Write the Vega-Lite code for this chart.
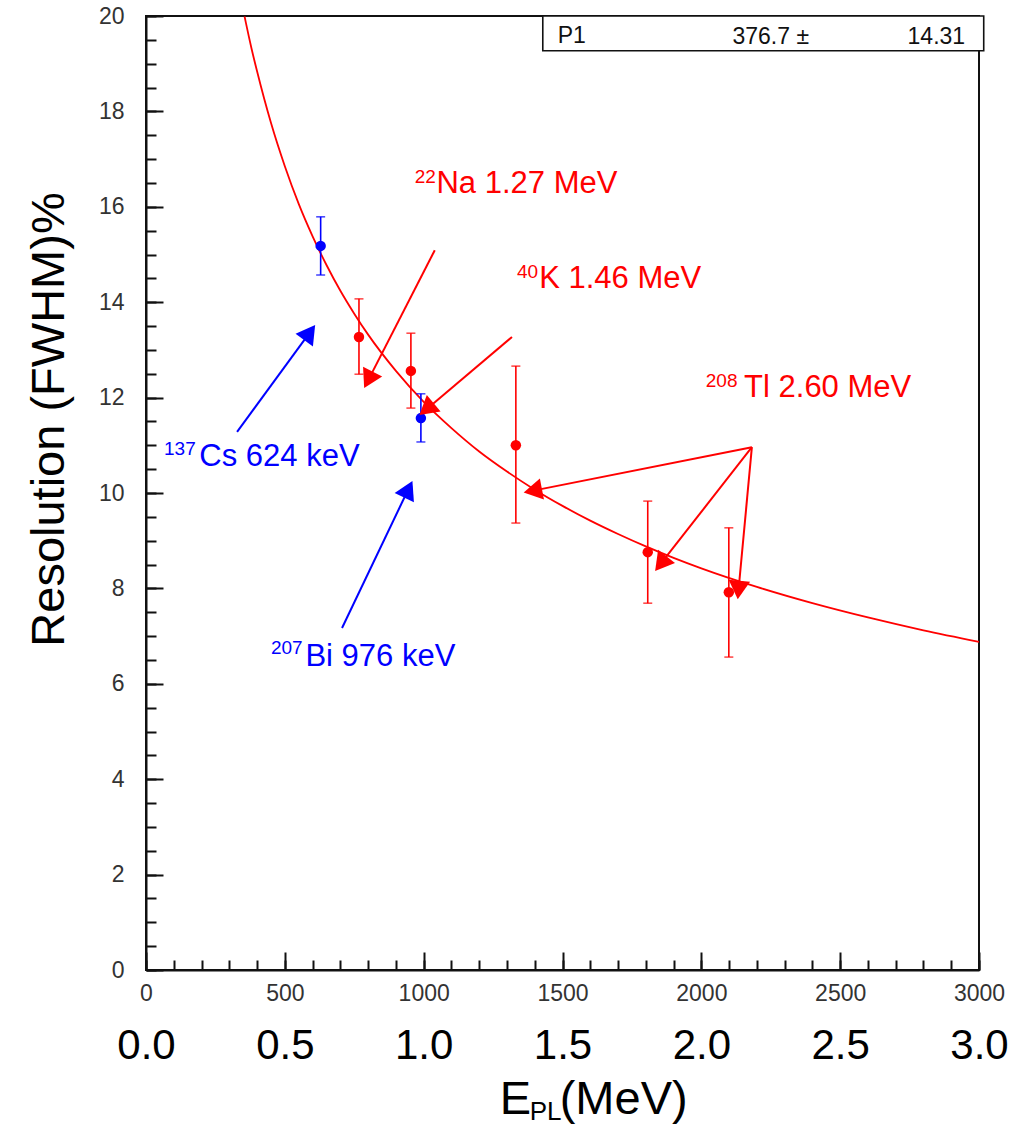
{
  "$schema": "https://vega.github.io/schema/vega-lite/v6.json",
  "width": 833,
  "height": 954,
  "autosize": {"type": "none"},
  "padding": {"left": 146, "top": 16, "right": 49, "bottom": 158},
  "background": "white",
  "config": {
    "view": {"stroke": "#111", "strokeWidth": 2},
    "font": "Liberation Sans",
    "axis": {"grid": false, "domainColor": "#111", "domainWidth": 2, "tickColor": "#111", "tickWidth": 2, "labelFont": "Liberation Sans", "titleFont": "Liberation Sans", "labelFlush": false, "labelOverlap": false}
  },
  "datasets": {
    "pts": [
      {"E": 629, "R": 15.18, "lo": 14.57, "hi": 15.79, "group": "Cs/Bi"},
      {"E": 767, "R": 13.27, "lo": 12.49, "hi": 14.07, "group": "Na/K/Tl"},
      {"E": 954, "R": 12.56, "lo": 11.78, "hi": 13.35, "group": "Na/K/Tl"},
      {"E": 990, "R": 11.57, "lo": 11.07, "hi": 12.08, "group": "Cs/Bi"},
      {"E": 1332, "R": 11.0, "lo": 9.37, "hi": 12.66, "group": "Na/K/Tl"},
      {"E": 1807, "R": 8.76, "lo": 7.69, "hi": 9.83, "group": "Na/K/Tl"},
      {"E": 2099, "R": 7.92, "lo": 6.56, "hi": 9.27, "group": "Na/K/Tl"}
    ],
    "fit": [
      {"E": 355, "R": 19.99}, {"E": 360, "R": 19.85}, {"E": 380, "R": 19.32}, {"E": 400, "R": 18.84},
      {"E": 450, "R": 17.76}, {"E": 500, "R": 16.85}, {"E": 550, "R": 16.06}, {"E": 600, "R": 15.38},
      {"E": 650, "R": 14.78}, {"E": 700, "R": 14.24}, {"E": 750, "R": 13.76}, {"E": 800, "R": 13.32},
      {"E": 900, "R": 12.56}, {"E": 1000, "R": 11.91}, {"E": 1100, "R": 11.36}, {"E": 1200, "R": 10.87},
      {"E": 1300, "R": 10.45}, {"E": 1400, "R": 10.07}, {"E": 1500, "R": 9.73}, {"E": 1600, "R": 9.42},
      {"E": 1700, "R": 9.14}, {"E": 1800, "R": 8.88}, {"E": 1900, "R": 8.64}, {"E": 2000, "R": 8.42},
      {"E": 2200, "R": 8.03}, {"E": 2400, "R": 7.69}, {"E": 2600, "R": 7.39}, {"E": 2800, "R": 7.12},
      {"E": 3000, "R": 6.88}
    ],
    "arrows": [
      {"x0": 1040, "y0": 15.09, "x1": 806, "y1": 12.43, "dir": 207, "group": "Na/K/Tl"},
      {"x0": 1318, "y0": 13.27, "x1": 1019, "y1": 11.80, "dir": 230, "group": "Na/K/Tl"},
      {"x0": 2182, "y0": 10.96, "x1": 1404, "y1": 10.06, "dir": 259, "group": "Na/K/Tl"},
      {"x0": 2182, "y0": 10.96, "x1": 1861, "y1": 8.57, "dir": 218, "group": "Na/K/Tl"},
      {"x0": 2182, "y0": 10.96, "x1": 2135, "y1": 8.03, "dir": 185, "group": "Na/K/Tl"},
      {"x0": 328, "y0": 11.28, "x1": 583, "y1": 13.31, "dir": 36, "group": "Cs/Bi"},
      {"x0": 706, "y0": 7.17, "x1": 940, "y1": 10.02, "dir": 26, "group": "Cs/Bi"}
    ],
    "notes": [
      {"x": 968, "y": 16.50, "text": "22", "kind": "sup", "group": "Na/K/Tl"},
      {"x": 1046, "y": 16.29, "text": "Na 1.27 MeV", "kind": "main", "group": "Na/K/Tl"},
      {"x": 1336, "y": 14.51, "text": "40", "kind": "sup", "group": "Na/K/Tl"},
      {"x": 1416, "y": 14.30, "text": "K 1.46 MeV", "kind": "main", "group": "Na/K/Tl"},
      {"x": 2016, "y": 12.22, "text": "208", "kind": "sup", "group": "Na/K/Tl"},
      {"x": 2154, "y": 12.01, "text": "Tl 2.60 MeV", "kind": "main", "group": "Na/K/Tl"},
      {"x": 65, "y": 10.80, "text": "137", "kind": "sup", "group": "Cs/Bi"},
      {"x": 192, "y": 10.57, "text": "Cs 624 keV", "kind": "main", "group": "Cs/Bi"},
      {"x": 450, "y": 6.62, "text": "207", "kind": "sup", "group": "Cs/Bi"},
      {"x": 574, "y": 6.37, "text": "Bi 976 keV", "kind": "main", "group": "Cs/Bi"}
    ],
    "xtitle": [
      {"x": 1274, "y": -3.02, "text": "E", "kind": "main"},
      {"x": 1382, "y": -3.15, "text": "PL", "kind": "sub"},
      {"x": 1490, "y": -3.02, "text": "(MeV)", "kind": "main"}
    ],
    "box": [
      {"x1": 1429, "x2": 3017, "y1": 19.27, "y2": 20}
    ],
    "boxtext": [
      {"x": 1483, "y": 19.43, "text": "P1", "side": "left"},
      {"x": 2112, "y": 19.41, "text": "376.7 ±", "side": "left"},
      {"x": 2950, "y": 19.41, "text": "14.31", "side": "right"}
    ]
  },
  "layer": [
    {
      "data": {"name": "fit"},
      "mark": {"type": "line", "color": "#ff0000", "strokeWidth": 1.8, "interpolate": "monotone"},
      "encoding": {
        "x": {"field": "E", "type": "quantitative", "scale": {"domain": [0, 3000], "nice": false, "zero": false},
          "axis": {"orient": "bottom", "values": [0,100,200,300,400,500,600,700,800,900,1000,1100,1200,1300,1400,1500,1600,1700,1800,1900,2000,2100,2200,2300,2400,2500,2600,2700,2800,2900,3000], "tickSize": -10, "labels": false, "domain": true, "title": null}},
        "y": {"field": "R", "type": "quantitative", "scale": {"domain": [0, 20], "nice": false, "zero": false},
          "axis": {"orient": "left", "values": [0,0.5,1,1.5,2,2.5,3,3.5,4,4.5,5,5.5,6,6.5,7,7.5,8,8.5,9,9.5,10,10.5,11,11.5,12,12.5,13,13.5,14,14.5,15,15.5,16,16.5,17,17.5,18,18.5,19,19.5,20], "tickSize": -10, "labels": false, "domain": true, "title": null}}
      }
    },
    {
      "data": {"name": "pts"},
      "mark": {"type": "rule", "strokeWidth": 1.6},
      "encoding": {
        "x": {"field": "E", "type": "quantitative", "scale": {"domain": [0, 3000], "nice": false, "zero": false},
          "axis": {"orient": "bottom", "values": [0,500,1000,1500,2000,2500,3000], "tickSize": -18, "labels": false, "domain": false, "title": null}},
        "y": {"field": "lo", "type": "quantitative", "scale": {"domain": [0, 20], "nice": false, "zero": false},
          "axis": {"orient": "left", "values": [0,2,4,6,8,10,12,14,16,18,20], "tickSize": -17, "labels": false, "domain": false, "title": null}},
        "y2": {"field": "hi"},
        "color": {"field": "group", "type": "nominal", "scale": {"domain": ["Cs/Bi", "Na/K/Tl"], "range": ["#0000ff", "#ff0000"]}, "legend": null}
      }
    },
    {
      "data": {"name": "pts"},
      "mark": {"type": "tick", "orient": "horizontal", "size": 9, "thickness": 1.6},
      "encoding": {
        "x": {"field": "E", "type": "quantitative", "scale": {"domain": [0, 3000], "nice": false, "zero": false},
          "axis": {"orient": "bottom", "values": [0,500,1000,1500,2000,2500,3000], "format": "d", "ticks": false, "tickSize": 0, "domain": false, "labelFontSize": 23, "labelColor": "#333", "labelBaseline": "alphabetic", "labelPadding": 30, "title": null}},
        "y": {"field": "hi", "type": "quantitative", "scale": {"domain": [0, 20], "nice": false, "zero": false},
          "axis": {"orient": "left", "values": [0,2,4,6,8,10,12,14,16,18,20], "ticks": false, "tickSize": 0, "domain": false, "labelFontSize": 23, "labelColor": "#333", "labelBaseline": "middle", "labelPadding": 22,
            "title": "Resolution (FWHM)%", "titleFontSize": 47, "titleFontWeight": "normal", "titleColor": "#000", "titleAngle": 270, "titleAlign": "center", "titleBaseline": "alphabetic", "titleX": -83, "titleY": 403}},
        "color": {"field": "group", "type": "nominal", "scale": {"domain": ["Cs/Bi", "Na/K/Tl"], "range": ["#0000ff", "#ff0000"]}, "legend": null}
      }
    },
    {
      "data": {"name": "pts"},
      "mark": {"type": "tick", "orient": "horizontal", "size": 9, "thickness": 1.6},
      "encoding": {
        "x": {"field": "E", "type": "quantitative", "scale": {"domain": [0, 3000], "nice": false, "zero": false},
          "axis": {"orient": "bottom", "values": [0,500,1000,1500,2000,2500,3000], "ticks": false, "tickSize": 0, "domain": false, "labelFontSize": 42, "labelFontWeight": "normal", "labelColor": "#000", "labelBaseline": "alphabetic", "labelPadding": 88, "labelExpr": "format(datum.value / 1000, '.1f')", "title": null}},
        "y": {"field": "lo", "type": "quantitative", "scale": {"domain": [0, 20], "nice": false, "zero": false}, "axis": null},
        "color": {"field": "group", "type": "nominal", "scale": {"domain": ["Cs/Bi", "Na/K/Tl"], "range": ["#0000ff", "#ff0000"]}, "legend": null}
      }
    },
    {
      "data": {"name": "pts"},
      "mark": {"type": "point", "shape": "circle", "filled": true, "opacity": 1, "size": 110},
      "encoding": {
        "x": {"field": "E", "type": "quantitative", "scale": {"domain": [0, 3000], "nice": false, "zero": false}, "axis": null},
        "y": {"field": "R", "type": "quantitative", "scale": {"domain": [0, 20], "nice": false, "zero": false}, "axis": null},
        "color": {"field": "group", "type": "nominal", "scale": {"domain": ["Cs/Bi", "Na/K/Tl"], "range": ["#0000ff", "#ff0000"]}, "legend": null}
      }
    },
    {
      "data": {"name": "arrows"},
      "mark": {"type": "rule", "strokeWidth": 2},
      "encoding": {
        "x": {"field": "x0", "type": "quantitative", "scale": {"domain": [0, 3000], "nice": false, "zero": false}, "axis": null},
        "y": {"field": "y0", "type": "quantitative", "scale": {"domain": [0, 20], "nice": false, "zero": false}, "axis": null},
        "x2": {"field": "x1"},
        "y2": {"field": "y1"},
        "color": {"field": "group", "type": "nominal", "scale": {"domain": ["Cs/Bi", "Na/K/Tl"], "range": ["#0000ff", "#ff0000"]}, "legend": null}
      }
    },
    {
      "data": {"name": "arrows"},
      "mark": {"type": "point", "shape": "triangle", "filled": true, "opacity": 1, "size": 460},
      "encoding": {
        "x": {"field": "x1", "type": "quantitative", "scale": {"domain": [0, 3000], "nice": false, "zero": false}, "axis": null},
        "y": {"field": "y1", "type": "quantitative", "scale": {"domain": [0, 20], "nice": false, "zero": false}, "axis": null},
        "angle": {"field": "dir", "type": "quantitative", "scale": null},
        "color": {"field": "group", "type": "nominal", "scale": {"domain": ["Cs/Bi", "Na/K/Tl"], "range": ["#0000ff", "#ff0000"]}, "legend": null}
      }
    },
    {
      "data": {"name": "notes"},
      "transform": [{"filter": "datum.kind === 'main'"}],
      "mark": {"type": "text", "align": "left", "baseline": "alphabetic", "fontSize": 31, "font": "Liberation Sans"},
      "encoding": {
        "x": {"field": "x", "type": "quantitative", "scale": {"domain": [0, 3000], "nice": false, "zero": false}, "axis": null},
        "y": {"field": "y", "type": "quantitative", "scale": {"domain": [0, 20], "nice": false, "zero": false}, "axis": null},
        "text": {"field": "text"},
        "color": {"field": "group", "type": "nominal", "scale": {"domain": ["Cs/Bi", "Na/K/Tl"], "range": ["#0000ff", "#ff0000"]}, "legend": null}
      }
    },
    {
      "data": {"name": "notes"},
      "transform": [{"filter": "datum.kind === 'sup'"}],
      "mark": {"type": "text", "align": "left", "baseline": "alphabetic", "fontSize": 19, "font": "Liberation Sans"},
      "encoding": {
        "x": {"field": "x", "type": "quantitative", "scale": {"domain": [0, 3000], "nice": false, "zero": false}, "axis": null},
        "y": {"field": "y", "type": "quantitative", "scale": {"domain": [0, 20], "nice": false, "zero": false}, "axis": null},
        "text": {"field": "text"},
        "color": {"field": "group", "type": "nominal", "scale": {"domain": ["Cs/Bi", "Na/K/Tl"], "range": ["#0000ff", "#ff0000"]}, "legend": null}
      }
    },
    {
      "data": {"name": "xtitle"},
      "transform": [{"filter": "datum.kind === 'main'"}],
      "mark": {"type": "text", "align": "left", "baseline": "alphabetic", "fontSize": 47, "font": "Liberation Sans", "color": "#000"},
      "encoding": {
        "x": {"field": "x", "type": "quantitative", "scale": {"domain": [0, 3000], "nice": false, "zero": false}, "axis": null},
        "y": {"field": "y", "type": "quantitative", "scale": {"domain": [0, 20], "nice": false, "zero": false}, "axis": null},
        "text": {"field": "text"}
      }
    },
    {
      "data": {"name": "xtitle"},
      "transform": [{"filter": "datum.kind === 'sub'"}],
      "mark": {"type": "text", "align": "left", "baseline": "alphabetic", "fontSize": 26, "font": "Liberation Sans", "color": "#000"},
      "encoding": {
        "x": {"field": "x", "type": "quantitative", "scale": {"domain": [0, 3000], "nice": false, "zero": false}, "axis": null},
        "y": {"field": "y", "type": "quantitative", "scale": {"domain": [0, 20], "nice": false, "zero": false}, "axis": null},
        "text": {"field": "text"}
      }
    },
    {
      "data": {"name": "box"},
      "mark": {"type": "rect", "fill": "#fff", "stroke": "#111", "strokeWidth": 1.6},
      "encoding": {
        "x": {"field": "x1", "type": "quantitative", "scale": {"domain": [0, 3000], "nice": false, "zero": false}, "axis": null},
        "x2": {"field": "x2"},
        "y": {"field": "y1", "type": "quantitative", "scale": {"domain": [0, 20], "nice": false, "zero": false}, "axis": null},
        "y2": {"field": "y2"}
      }
    },
    {
      "data": {"name": "boxtext"},
      "transform": [{"filter": "datum.side === 'left'"}],
      "mark": {"type": "text", "align": "left", "baseline": "alphabetic", "fontSize": 23, "font": "Liberation Sans", "color": "#111"},
      "encoding": {
        "x": {"field": "x", "type": "quantitative", "scale": {"domain": [0, 3000], "nice": false, "zero": false}, "axis": null},
        "y": {"field": "y", "type": "quantitative", "scale": {"domain": [0, 20], "nice": false, "zero": false}, "axis": null},
        "text": {"field": "text"}
      }
    },
    {
      "data": {"name": "boxtext"},
      "transform": [{"filter": "datum.side === 'right'"}],
      "mark": {"type": "text", "align": "right", "baseline": "alphabetic", "fontSize": 23, "font": "Liberation Sans", "color": "#111"},
      "encoding": {
        "x": {"field": "x", "type": "quantitative", "scale": {"domain": [0, 3000], "nice": false, "zero": false}, "axis": null},
        "y": {"field": "y", "type": "quantitative", "scale": {"domain": [0, 20], "nice": false, "zero": false}, "axis": null},
        "text": {"field": "text"}
      }
    }
  ],
  "resolve": {"axis": {"x": "independent", "y": "independent"}}
}
